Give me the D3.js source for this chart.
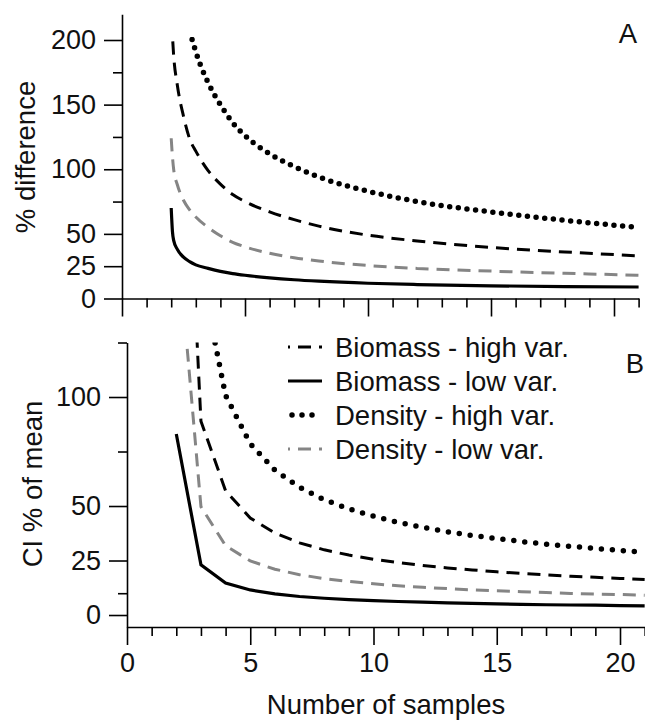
<!DOCTYPE html>
<html lang="en">
<head>
<meta charset="UTF-8">
<title>Samples</title>
<script src="https://cdn.jsdelivr.net/npm/d3@7"></script>
<style>
  body { margin: 0; background: #fff; }
  svg { display: block; font-family: "Liberation Sans", Arial, Helvetica, sans-serif; }
  .axis path, .axis line { stroke: #000; stroke-width: 1.6px; }
  .axis text { font-size: 27px; fill: #111; font-family: "Liberation Sans", Arial, sans-serif; }
  .lbl { font-size: 27.5px; fill: #111; }
  .curve { fill: none; }
</style>
</head>
<body>
<svg width="645" height="721"></svg>
<script>
// ---- panel A: % difference (smooth curves)
var nA = [2, 2.05, 2.1, 2.25, 2.5, 2.75, 3, 3.5, 4, 4.5, 5, 6, 7, 8, 10, 12, 15, 18, 21];
var bioHighA = [215, 203, 188, 165, 141, 123.5, 114, 99, 88.5, 80.5, 75, 67, 61, 56, 49, 44.5, 39.5, 36, 33];
var bioLowA  = [70, 52, 45, 38, 32, 28.5, 26, 23.3, 21, 19.3, 18, 16, 14.5, 13.4, 11.8, 10.8, 9.8, 9.2, 8.9];
var denHighA = [300, 290, 278, 258, 235, 208, 191, 167, 150, 136, 126, 112, 102, 94, 83, 75, 67, 60.5, 55];
var denLowA  = [124, 110, 100, 88, 76, 68.5, 63, 55, 48.5, 43.5, 40, 35, 31.5, 29, 25.5, 23.3, 21.2, 19.5, 18];

// ---- panel B: CI % of mean, one value per whole sample size
var nB = d3.range(2, 22);
var bioHighB = [321, 88.9, 57.0, 44.5, 37.6, 33.1, 29.9, 27.5, 25.6, 24.1, 22.7, 21.6, 20.7, 19.8, 19.1, 18.4, 17.8, 17.3, 16.8, 16.3];
var bioLowB  = [83.0, 23.0, 14.7, 11.5, 9.7, 8.5, 7.7, 7.1, 6.6, 6.2, 5.9, 5.6, 5.3, 5.1, 4.9, 4.7, 4.6, 4.5, 4.3, 4.2];
var denHighB = [568, 157.2, 100.7, 78.6, 66.4, 58.6, 52.9, 48.7, 45.3, 42.5, 40.2, 38.2, 36.5, 35.1, 33.7, 32.5, 31.5, 30.5, 29.6, 28.8];
var denLowB  = [179.7, 49.7, 31.8, 24.8, 21.0, 18.5, 16.7, 15.4, 14.3, 13.4, 12.7, 12.1, 11.5, 11.1, 10.7, 10.3, 9.9, 9.6, 9.4, 9.1];

var legendLabels = ["Biomass - high var.", "Biomass - low var.", "Density - high var.", "Density - low var."];
var yTicksA = [0, 25, 50, 100, 150, 200], yMinorA = [75, 125, 175];
var yTicksB = [0, 25, 50, 100], yMinorB = [10, 75, 125];
var xTicks = [0, 5, 10, 15, 20];

var grey = "#858585";
var styles = [
  {stroke: "#000", width: 3, dash: "13,8", cap: "butt"},
  {stroke: "#000", width: 3.2, dash: null, cap: "butt"},
  {stroke: "#000", width: 5.5, dash: "0,8.7", cap: "round"},
  {stroke: grey, width: 3, dash: "13,8", cap: "butt"}
];

var svg = d3.select("svg");

function drawAxes(g, x, y, yMajor, yMinor, xLabels) {
  var xa = g.append("g").attr("class", "axis").attr("transform", "translate(0," + y.range()[0] + ")");
  xa.call(d3.axisBottom(x).tickValues(xTicks).tickSize(18).tickSizeOuter(0).tickPadding(8)
    .tickFormat(xLabels ? d3.format("d") : ""));
  xa.append("g").call(d3.axisBottom(x).tickValues(d3.range(0, 22).filter(function (d) { return d % 5; }))
    .tickSize(9).tickFormat("")).select(".domain").remove();
  var ya = g.append("g").attr("class", "axis").attr("transform", "translate(" + x.range()[0] + ",0)");
  ya.call(d3.axisLeft(y).tickValues(yMajor).tickSize(18).tickSizeOuter(0).tickPadding(8));
  ya.append("g").call(d3.axisLeft(y).tickValues(yMinor).tickSize(9).tickFormat("")).select(".domain").remove();
}

function drawCurves(g, x, y, ns, series, curve, clipId, topY, dotGap) {
  g.append("clipPath").attr("id", clipId).append("rect")
    .attr("x", x.range()[0]).attr("y", topY).attr("width", 645 - x.range()[0]).attr("height", y.range()[0] - topY);
  var line = d3.line().curve(curve)
    .x(function (d, i) { return x(ns[i]); })
    .y(function (d) { return y(d); });
  var cg = g.append("g").attr("clip-path", "url(#" + clipId + ")");
  series.forEach(function (s, k) {
    var st = styles[k];
    cg.append("path").datum(s).attr("class", "curve").attr("d", line)
      .attr("stroke", st.stroke).attr("stroke-width", st.width)
      .attr("stroke-linecap", st.cap)
      .attr("stroke-dasharray", k === 2 ? "0," + dotGap : st.dash);
  });
}

// panel A
var xA = d3.scaleLinear().domain([0, 21]).range([122, 122 + 21 * 24.6]);
var yA = d3.scaleLinear().domain([0, 220]).range([298.5, 298.5 - 220 * 1.2925]);
var gA = svg.append("g");
drawCurves(gA, xA, yA, nA, [bioHighA, bioLowA, denHighA, denLowA], d3.curveMonotoneX, "clipA", yA(200) - 3, 8.7);
drawAxes(gA, xA, yA, yTicksA, yMinorA, false);
gA.append("text").attr("class", "lbl").attr("text-anchor", "middle")
  .attr("transform", "translate(35,157) rotate(-90)").text("% difference");
gA.append("text").attr("class", "lbl").attr("text-anchor", "middle").attr("x", 628).attr("y", 43).text("A");

// panel B
var xB = d3.scaleLinear().domain([0, 21]).range([127, 127 + 21 * 24.65]);
var yB = d3.scaleLinear().domain([-5.5, 125]).range([627, 627 - 130.5 * 2.18]);
var gB = svg.append("g");
drawCurves(gB, xB, yB, nB, [bioHighB, bioLowB, denHighB, denLowB], d3.curveLinear, "clipB", yB(125), 11);
drawAxes(gB, xB, yB, yTicksB, yMinorB, true);
gB.append("text").attr("class", "lbl").attr("text-anchor", "middle")
  .attr("transform", "translate(42,484) rotate(-90)").text("CI % of mean");
gB.append("text").attr("class", "lbl").attr("text-anchor", "middle").attr("x", 635).attr("y", 373).text("B");
svg.append("text").attr("class", "lbl").attr("text-anchor", "middle").attr("x", 386).attr("y", 714).text("Number of samples");

// legend
var lg = svg.append("g").attr("transform", "translate(288,357)");
legendLabels.forEach(function (t, k) {
  var st = styles[k], row = lg.append("g").attr("transform", "translate(0," + k * 34 + ")");
  var ln = row.append("line").attr("x1", 0).attr("x2", 34).attr("y1", -10).attr("y2", -10)
    .attr("stroke", st.stroke).attr("stroke-width", st.width).attr("stroke-linecap", st.cap);
  if (k === 0 || k === 3) ln.attr("stroke-dasharray", "13,8").attr("stroke-dashoffset", 11);
  if (k === 2) ln.attr("x1", 4).attr("x2", 25).attr("stroke-dasharray", "0,10");
  row.append("text").attr("class", "lbl").attr("x", 47).attr("y", 0).text(t);
});
</script>
</body>
</html>
